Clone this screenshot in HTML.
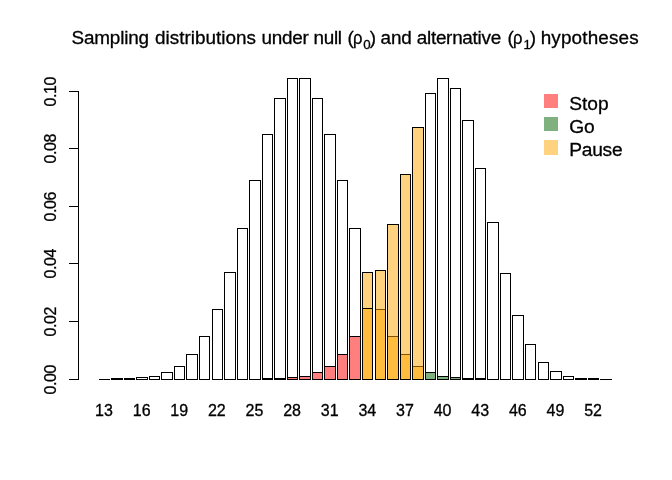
<!DOCTYPE html>
<html><head><meta charset="utf-8"><title>Sampling distributions</title>
<style>
html,body{margin:0;padding:0;background:#fff;}
svg{display:block;font-family:"Liberation Sans",Arial,sans-serif;fill:#000;}
text{stroke:#000;stroke-width:0.3px;}
</style></head><body>
<svg width="672" height="480" viewBox="0 0 672 480">
<rect width="672" height="480" fill="#fff"/>
<g shape-rendering="crispEdges">
<rect x="99" y="379" width="11" height="1" fill="#000"/>
<rect x="111" y="378" width="12" height="2" fill="#000"/>
<rect x="124" y="378" width="11" height="2" fill="#000"/>
<path d="M136 377h12v3h-12z M137 378v1h10v-1z" fill="#000" fill-rule="evenodd"/>
<path d="M149 376h11v4h-11z M150 377v2h9v-2z" fill="#000" fill-rule="evenodd"/>
<path d="M161 372h12v8h-12z M162 373v6h10v-6z" fill="#000" fill-rule="evenodd"/>
<path d="M174 366h11v14h-11z M175 367v12h9v-12z" fill="#000" fill-rule="evenodd"/>
<path d="M186 354h12v26h-12z M187 355v24h10v-24z" fill="#000" fill-rule="evenodd"/>
<path d="M199 336h11v44h-11z M200 337v42h9v-42z" fill="#000" fill-rule="evenodd"/>
<path d="M212 309h11v71h-11z M213 310v69h9v-69z" fill="#000" fill-rule="evenodd"/>
<path d="M224 272h12v108h-12z M225 273v106h10v-106z" fill="#000" fill-rule="evenodd"/>
<path d="M237 228h11v152h-11z M238 229v150h9v-150z" fill="#000" fill-rule="evenodd"/>
<path d="M249 180h12v200h-12z M250 181v198h10v-198z" fill="#000" fill-rule="evenodd"/>
<path d="M262 134h11v246h-11z M263 135v244h9v-244z" fill="#000" fill-rule="evenodd"/>
<path d="M274 98h12v282h-12z M275 99v280h10v-280z" fill="#000" fill-rule="evenodd"/>
<path d="M287 78h11v302h-11z M288 79v300h9v-300z" fill="#000" fill-rule="evenodd"/>
<path d="M299 78h12v302h-12z M300 79v300h10v-300z" fill="#000" fill-rule="evenodd"/>
<path d="M312 98h11v282h-11z M313 99v280h9v-280z" fill="#000" fill-rule="evenodd"/>
<path d="M324 134h12v246h-12z M325 135v244h10v-244z" fill="#000" fill-rule="evenodd"/>
<path d="M337 180h11v200h-11z M338 181v198h9v-198z" fill="#000" fill-rule="evenodd"/>
<path d="M349 228h12v152h-12z M350 229v150h10v-150z" fill="#000" fill-rule="evenodd"/>
<rect x="362" y="272" width="11" height="108" fill="rgba(255,165,0,0.5)"/>
<path d="M362 272h11v108h-11z M363 273v106h9v-106z" fill="#000" fill-rule="evenodd"/>
<rect x="375" y="309" width="11" height="71" fill="rgba(255,165,0,0.5)"/>
<path d="M375 309h11v71h-11z M376 310v69h9v-69z" fill="#000" fill-rule="evenodd"/>
<rect x="387" y="336" width="12" height="44" fill="rgba(255,165,0,0.5)"/>
<path d="M387 336h12v44h-12z M388 337v42h10v-42z" fill="#000" fill-rule="evenodd"/>
<rect x="400" y="354" width="11" height="26" fill="rgba(255,165,0,0.5)"/>
<path d="M400 354h11v26h-11z M401 355v24h9v-24z" fill="#000" fill-rule="evenodd"/>
<rect x="412" y="366" width="12" height="14" fill="rgba(255,165,0,0.5)"/>
<path d="M412 366h12v14h-12z M413 367v12h10v-12z" fill="#000" fill-rule="evenodd"/>
<rect x="425" y="372" width="11" height="8" fill="rgba(0,100,0,0.5)"/>
<path d="M425 372h11v8h-11z M426 373v6h9v-6z" fill="#000" fill-rule="evenodd"/>
<rect x="437" y="376" width="12" height="4" fill="rgba(0,100,0,0.5)"/>
<path d="M437 376h12v4h-12z M438 377v2h10v-2z" fill="#000" fill-rule="evenodd"/>
<rect x="450" y="377" width="11" height="3" fill="rgba(0,100,0,0.5)"/>
<path d="M450 377h11v3h-11z M451 378v1h9v-1z" fill="#000" fill-rule="evenodd"/>
<rect x="462" y="378" width="12" height="2" fill="rgba(0,100,0,0.5)"/>
<rect x="462" y="378" width="12" height="2" fill="#000"/>
<rect x="475" y="378" width="11" height="2" fill="rgba(0,100,0,0.5)"/>
<rect x="475" y="378" width="11" height="2" fill="#000"/>
<rect x="487" y="379" width="12" height="1" fill="rgba(0,100,0,0.5)"/>
<rect x="487" y="379" width="12" height="1" fill="#000"/>
<rect x="500" y="379" width="11" height="1" fill="rgba(0,100,0,0.5)"/>
<rect x="500" y="379" width="11" height="1" fill="#000"/>
<rect x="512" y="379" width="12" height="1" fill="rgba(0,100,0,0.5)"/>
<rect x="512" y="379" width="12" height="1" fill="#000"/>
<rect x="525" y="379" width="11" height="1" fill="rgba(0,100,0,0.5)"/>
<rect x="525" y="379" width="11" height="1" fill="#000"/>
<rect x="538" y="379" width="11" height="1" fill="rgba(0,100,0,0.5)"/>
<rect x="538" y="379" width="11" height="1" fill="#000"/>
<rect x="550" y="379" width="12" height="1" fill="rgba(0,100,0,0.5)"/>
<rect x="550" y="379" width="12" height="1" fill="#000"/>
<rect x="563" y="379" width="11" height="1" fill="rgba(0,100,0,0.5)"/>
<rect x="563" y="379" width="11" height="1" fill="#000"/>
<rect x="575" y="379" width="12" height="1" fill="rgba(0,100,0,0.5)"/>
<rect x="575" y="379" width="12" height="1" fill="#000"/>
<rect x="588" y="379" width="11" height="1" fill="rgba(0,100,0,0.5)"/>
<rect x="588" y="379" width="11" height="1" fill="#000"/>
<rect x="600" y="379" width="12" height="1" fill="rgba(0,100,0,0.5)"/>
<rect x="600" y="379" width="12" height="1" fill="#000"/>
<rect x="99" y="379" width="11" height="1" fill="rgba(255,0,0,0.5)"/>
<rect x="99" y="379" width="11" height="1" fill="#000"/>
<rect x="111" y="379" width="12" height="1" fill="rgba(255,0,0,0.5)"/>
<rect x="111" y="379" width="12" height="1" fill="#000"/>
<rect x="124" y="379" width="11" height="1" fill="rgba(255,0,0,0.5)"/>
<rect x="124" y="379" width="11" height="1" fill="#000"/>
<rect x="136" y="379" width="12" height="1" fill="rgba(255,0,0,0.5)"/>
<rect x="136" y="379" width="12" height="1" fill="#000"/>
<rect x="149" y="379" width="11" height="1" fill="rgba(255,0,0,0.5)"/>
<rect x="149" y="379" width="11" height="1" fill="#000"/>
<rect x="161" y="379" width="12" height="1" fill="rgba(255,0,0,0.5)"/>
<rect x="161" y="379" width="12" height="1" fill="#000"/>
<rect x="174" y="379" width="11" height="1" fill="rgba(255,0,0,0.5)"/>
<rect x="174" y="379" width="11" height="1" fill="#000"/>
<rect x="186" y="379" width="12" height="1" fill="rgba(255,0,0,0.5)"/>
<rect x="186" y="379" width="12" height="1" fill="#000"/>
<rect x="199" y="379" width="11" height="1" fill="rgba(255,0,0,0.5)"/>
<rect x="199" y="379" width="11" height="1" fill="#000"/>
<rect x="212" y="379" width="11" height="1" fill="rgba(255,0,0,0.5)"/>
<rect x="212" y="379" width="11" height="1" fill="#000"/>
<rect x="224" y="379" width="12" height="1" fill="rgba(255,0,0,0.5)"/>
<rect x="224" y="379" width="12" height="1" fill="#000"/>
<rect x="237" y="379" width="11" height="1" fill="rgba(255,0,0,0.5)"/>
<rect x="237" y="379" width="11" height="1" fill="#000"/>
<rect x="249" y="379" width="12" height="1" fill="rgba(255,0,0,0.5)"/>
<rect x="249" y="379" width="12" height="1" fill="#000"/>
<rect x="262" y="378" width="11" height="2" fill="rgba(255,0,0,0.5)"/>
<rect x="262" y="378" width="11" height="2" fill="#000"/>
<rect x="274" y="378" width="12" height="2" fill="rgba(255,0,0,0.5)"/>
<rect x="274" y="378" width="12" height="2" fill="#000"/>
<rect x="287" y="377" width="11" height="3" fill="rgba(255,0,0,0.5)"/>
<path d="M287 377h11v3h-11z M288 378v1h9v-1z" fill="#000" fill-rule="evenodd"/>
<rect x="299" y="376" width="12" height="4" fill="rgba(255,0,0,0.5)"/>
<path d="M299 376h12v4h-12z M300 377v2h10v-2z" fill="#000" fill-rule="evenodd"/>
<rect x="312" y="372" width="11" height="8" fill="rgba(255,0,0,0.5)"/>
<path d="M312 372h11v8h-11z M313 373v6h9v-6z" fill="#000" fill-rule="evenodd"/>
<rect x="324" y="366" width="12" height="14" fill="rgba(255,0,0,0.5)"/>
<path d="M324 366h12v14h-12z M325 367v12h10v-12z" fill="#000" fill-rule="evenodd"/>
<rect x="337" y="354" width="11" height="26" fill="rgba(255,0,0,0.5)"/>
<path d="M337 354h11v26h-11z M338 355v24h9v-24z" fill="#000" fill-rule="evenodd"/>
<rect x="349" y="336" width="12" height="44" fill="rgba(255,0,0,0.5)"/>
<path d="M349 336h12v44h-12z M350 337v42h10v-42z" fill="#000" fill-rule="evenodd"/>
<rect x="362" y="308" width="11" height="72" fill="rgba(255,165,0,0.5)"/>
<path d="M362 308h11v72h-11z M363 309v70h9v-70z" fill="#000" fill-rule="evenodd"/>
<rect x="375" y="270" width="11" height="110" fill="rgba(255,165,0,0.5)"/>
<path d="M375 270h11v110h-11z M376 271v108h9v-108z" fill="#000" fill-rule="evenodd"/>
<rect x="387" y="224" width="12" height="156" fill="rgba(255,165,0,0.5)"/>
<path d="M387 224h12v156h-12z M388 225v154h10v-154z" fill="#000" fill-rule="evenodd"/>
<rect x="400" y="174" width="11" height="206" fill="rgba(255,165,0,0.5)"/>
<path d="M400 174h11v206h-11z M401 175v204h9v-204z" fill="#000" fill-rule="evenodd"/>
<rect x="412" y="127" width="12" height="253" fill="rgba(255,165,0,0.5)"/>
<path d="M412 127h12v253h-12z M413 128v251h10v-251z" fill="#000" fill-rule="evenodd"/>
<path d="M425 93h11v287h-11z M426 94v285h9v-285z" fill="#000" fill-rule="evenodd"/>
<path d="M437 78h12v302h-12z M438 79v300h10v-300z" fill="#000" fill-rule="evenodd"/>
<path d="M450 88h11v292h-11z M451 89v290h9v-290z" fill="#000" fill-rule="evenodd"/>
<path d="M462 120h12v260h-12z M463 121v258h10v-258z" fill="#000" fill-rule="evenodd"/>
<path d="M475 168h11v212h-11z M476 169v210h9v-210z" fill="#000" fill-rule="evenodd"/>
<path d="M487 222h12v158h-12z M488 223v156h10v-156z" fill="#000" fill-rule="evenodd"/>
<path d="M500 273h11v107h-11z M501 274v105h9v-105z" fill="#000" fill-rule="evenodd"/>
<path d="M512 315h12v65h-12z M513 316v63h10v-63z" fill="#000" fill-rule="evenodd"/>
<path d="M525 344h11v36h-11z M526 345v34h9v-34z" fill="#000" fill-rule="evenodd"/>
<path d="M538 362h11v18h-11z M539 363v16h9v-16z" fill="#000" fill-rule="evenodd"/>
<path d="M550 371h12v9h-12z M551 372v7h10v-7z" fill="#000" fill-rule="evenodd"/>
<path d="M563 376h11v4h-11z M564 377v2h9v-2z" fill="#000" fill-rule="evenodd"/>
<rect x="575" y="378" width="12" height="2" fill="#000"/>
<rect x="588" y="378" width="11" height="2" fill="#000"/>
<rect x="600" y="379" width="12" height="1" fill="#000"/>
<rect x="78" y="91" width="1" height="289" fill="#000"/>
<rect x="69" y="379" width="10" height="1" fill="#000"/>
<rect x="69" y="321" width="10" height="1" fill="#000"/>
<rect x="69" y="263" width="10" height="1" fill="#000"/>
<rect x="69" y="206" width="10" height="1" fill="#000"/>
<rect x="69" y="148" width="10" height="1" fill="#000"/>
<rect x="69" y="91" width="10" height="1" fill="#000"/>
<rect x="544" y="94" width="14" height="14" fill="rgba(255,0,0,0.5)"/>
<rect x="544" y="117" width="14" height="14" fill="rgba(0,100,0,0.5)"/>
<rect x="544" y="140" width="14" height="15" fill="rgba(255,165,0,0.5)"/>
</g>
<g>
<text font-size="18.9"><tspan x="71.45" y="44.3" letter-spacing="-0.157">Sampling</tspan> <tspan x="155.02" y="44.3" letter-spacing="0.019">distributions</tspan> <tspan x="261.6" y="44.3" letter-spacing="-0.3">under</tspan> <tspan x="313.48" y="44.3" letter-spacing="-0.3">null</tspan> <tspan x="347.4" y="44.3">(</tspan><tspan x="352.9" y="44.3" textLength="9.46" lengthAdjust="spacingAndGlyphs">ρ</tspan><tspan x="363.3" y="49.2" font-size="13.3">0</tspan><tspan x="369.8" y="44.3">)</tspan> <tspan x="380.62" y="44.3" letter-spacing="-0.213">and</tspan> <tspan x="416.78" y="44.3" letter-spacing="-0.277">alternative</tspan> <tspan x="507.4" y="44.3">(</tspan><tspan x="512.9" y="44.3" textLength="9.46" lengthAdjust="spacingAndGlyphs">ρ</tspan><tspan x="523.4" y="49.2" font-size="13.3">1</tspan><tspan x="529.8" y="44.3">)</tspan> <tspan x="540.67" y="44.3" letter-spacing="0.156">hypotheses</tspan></text>
<text transform="translate(55.7 379.8) rotate(-90)" text-anchor="middle" font-size="16" letter-spacing="-0.4">0.00</text>
<text transform="translate(55.7 321.8) rotate(-90)" text-anchor="middle" font-size="16" letter-spacing="-0.4">0.02</text>
<text transform="translate(55.7 263.8) rotate(-90)" text-anchor="middle" font-size="16" letter-spacing="-0.4">0.04</text>
<text transform="translate(55.7 206.8) rotate(-90)" text-anchor="middle" font-size="16" letter-spacing="-0.4">0.06</text>
<text transform="translate(55.7 148.8) rotate(-90)" text-anchor="middle" font-size="16" letter-spacing="-0.4">0.08</text>
<text transform="translate(55.7 91.8) rotate(-90)" text-anchor="middle" font-size="16" letter-spacing="-0.4">0.10</text>
<text x="104.02" y="416.4" text-anchor="middle" font-size="16">13</text>
<text x="141.64" y="416.4" text-anchor="middle" font-size="16">16</text>
<text x="179.26" y="416.4" text-anchor="middle" font-size="16">19</text>
<text x="216.87" y="416.4" text-anchor="middle" font-size="16">22</text>
<text x="254.49" y="416.4" text-anchor="middle" font-size="16">25</text>
<text x="292.11" y="416.4" text-anchor="middle" font-size="16">28</text>
<text x="329.72" y="416.4" text-anchor="middle" font-size="16">31</text>
<text x="367.34" y="416.4" text-anchor="middle" font-size="16">34</text>
<text x="404.96" y="416.4" text-anchor="middle" font-size="16">37</text>
<text x="442.57" y="416.4" text-anchor="middle" font-size="16">40</text>
<text x="480.19" y="416.4" text-anchor="middle" font-size="16">43</text>
<text x="517.80" y="416.4" text-anchor="middle" font-size="16">46</text>
<text x="555.42" y="416.4" text-anchor="middle" font-size="16">49</text>
<text x="593.04" y="416.4" text-anchor="middle" font-size="16">52</text>
<text x="569.2" y="109.5" font-size="19.2">Stop</text>
<text x="569.2" y="132.5" font-size="19.2">Go</text>
<text x="569.2" y="155.5" font-size="19.2" letter-spacing="-0.25">Pause</text>
</g>
</svg>
</body></html>
